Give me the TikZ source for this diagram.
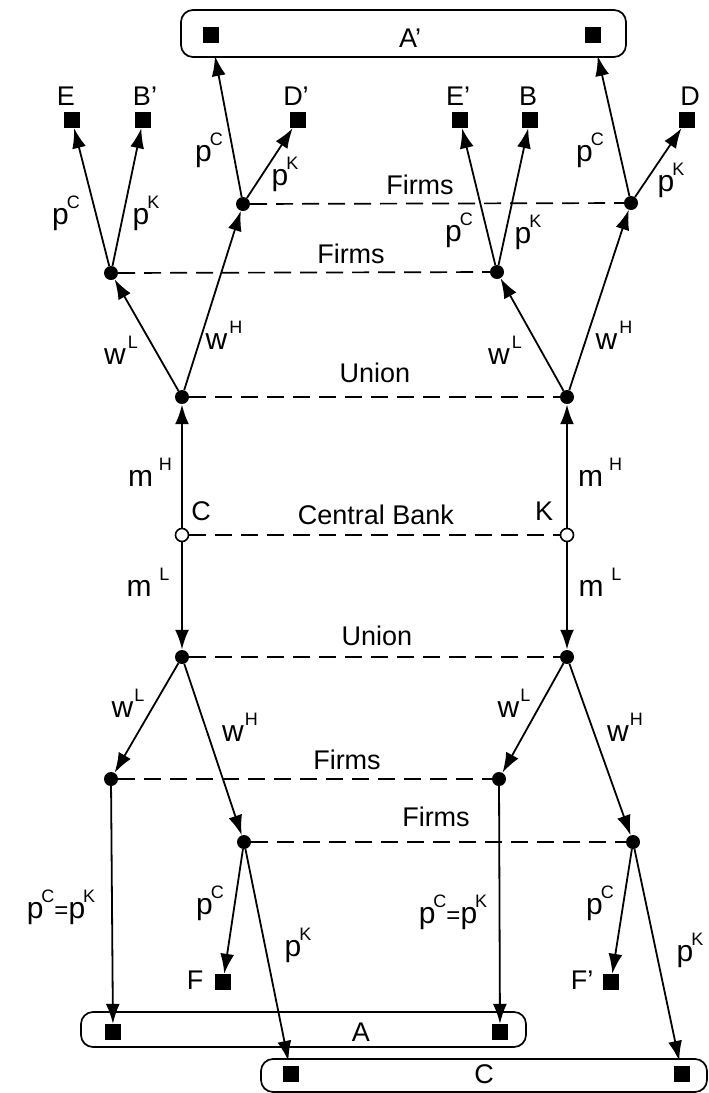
\documentclass[tikz,border=0pt]{standalone}
\usepackage{fontspec}
\setmainfont{Liberation Sans}
\usetikzlibrary{arrows.meta}
\newcommand\Sup[3][0pt]{{\fontsize{30}{30}\selectfont #2}\kern#1\raisebox{16pt}{\fontsize{18}{18}\selectfont #3}}
\begin{document}
\begin{tikzpicture}[x=1pt,y=-1pt,
 dot/.style={circle,fill=black,inner sep=0pt,minimum size=14pt},
 odot/.style={circle,draw=black,fill=white,line width=1.6pt,inner sep=0pt,minimum size=13pt},
 sq/.style={rectangle,fill=black,inner sep=0pt,minimum size=16pt},
 lab/.style={font=\fontsize{27}{27}\selectfont,inner sep=0pt},
 arr/.style={-{Latex[length=20pt,width=14pt]},line width=1.8pt},
 thk/.style={arr,line width=2.6pt},
 dsh/.style={line width=1.7pt,dash pattern=on 17pt off 9pt},
 grp/.style={draw,line width=1.7pt,rounded corners=12pt}]
\useasboundingbox (0,0) rectangle (709,1093);
% group boxes
\draw[grp] (181,10) rectangle (626,57);
\draw[grp] (81,1012) rectangle (526,1047);
\draw[grp] (261,1059) rectangle (707,1092);
% squares
\node[sq] (Asq1) at (211,35) {};
\node[sq] (Asq2) at (593,35) {};
\node[sq] (E) at (72,120) {};
\node[sq] (Bp) at (143,120) {};
\node[sq] (Dp) at (298,120) {};
\node[sq] (Ep) at (460,120) {};
\node[sq] (B) at (530,120) {};
\node[sq] (D) at (687,120) {};
\node[sq] (F) at (223,982) {};
\node[sq] (Fp) at (611,982) {};
\node[sq] (A1) at (113,1032) {};
\node[sq] (A2) at (500,1032) {};
\node[sq] (C1) at (291,1074) {};
\node[sq] (C2) at (682,1074) {};
% dots
\node[dot] (ufHC) at (243,204) {};
\node[dot] (ufHK) at (631,203) {};
\node[dot] (ufLC) at (111,273) {};
\node[dot] (ufLK) at (497,272) {};
\node[dot] (uuC) at (182,397) {};
\node[dot] (uuK) at (567,397) {};
\node[odot] (cbC) at (182,535) {};
\node[odot] (cbK) at (567,535) {};
\node[dot] (luC) at (182,657) {};
\node[dot] (luK) at (567,657) {};
\node[dot] (lfLC) at (111,779) {};
\node[dot] (lfLK) at (499,779) {};
\node[dot] (lfHC) at (244,842) {};
\node[dot] (lfHK) at (633,842) {};
% dashed links
\draw[dsh] (ufHC) -- (ufHK);
\draw[dsh] (ufLC) -- (ufLK);
\draw[dsh] (uuC) -- (uuK);
\draw[dsh] (cbC) -- (cbK);
\draw[dsh] (luC) -- (luK);
\draw[dsh] (lfLC) -- (lfLK);
\draw[dsh] (lfHC) -- (lfHK);
% arrows upper
\draw[thk] (cbC) -- (uuC);
\draw[thk] (cbK) -- (uuK);
\draw[arr] (uuC) -- (ufLC);
\draw[arr] (uuC) -- (ufHC);
\draw[arr] (uuK) -- (ufLK);
\draw[arr] (uuK) -- (ufHK);
\draw[arr] (ufLC) -- (E);
\draw[arr] (ufLC) -- (Bp);
\draw[arr] (ufLK) -- (Ep);
\draw[arr] (ufLK) -- (B);
\draw[arr,shorten >=13pt] (ufHC) -- (Asq1);
\draw[arr] (ufHC) -- (Dp);
\draw[arr,shorten >=13pt] (ufHK) -- (Asq2);
\draw[arr] (ufHK) -- (D);
% arrows lower
\draw[thk] (cbC) -- (luC);
\draw[thk] (cbK) -- (luK);
\draw[arr] (luC) -- (lfLC);
\draw[arr] (luC) -- (lfHC);
\draw[arr] (luK) -- (lfLK);
\draw[arr] (luK) -- (lfHK);
\draw[arr] (lfLC) -- (A1);
\draw[arr] (lfLK) -- (A2);
\draw[arr] (lfHC) -- (F);
\draw[arr] (lfHK) -- (Fp);
\draw[arr,shorten >=5pt] (lfHC) -- (C1);
\draw[arr,shorten >=5pt] (lfHK) -- (C2);
% group labels
\node[lab] (lAp) at (410,38) {A'};
\node[lab] (lA) at (361,1032) {A};
\node[lab] (lC) at (484,1074) {C};
% terminal labels
\node[lab] (lE) at (66,96) {E};
\node[lab] (lBp) at (145,96) {B'};
\node[lab] (lDp) at (296,96) {D'};
\node[lab] (lEp) at (458,96) {E'};
\node[lab] (lB) at (528,96) {B};
\node[lab] (lD) at (690,96) {D};
\node[lab] (lF) at (195,980) {F};
\node[lab] (lFp) at (582,980) {F'};
% node labels
\node[lab] (lCC) at (201,511) {C};
\node[lab] (lKK) at (544,511) {K};
% stage labels
\node[lab] (s1) at (420,185) {Firms};
\node[lab] (s2) at (351,254) {Firms};
\node[lab] (s3) at (375,373) {Union};
\node[lab] (s4) at (376,515) {Central Bank};
\node[lab] (s5) at (377,636) {Union};
\node[lab] (s6) at (347,760) {Firms};
\node[lab] (s7) at (436,817) {Firms};
% edge labels upper
\node[lab] (e1) at (66,213) {\Sup[-2pt]{p}{C}};
\node[lab] (e2) at (146,213) {\Sup[-2pt]{p}{K}};
\node[lab] (e3) at (209,150) {\Sup[-2pt]{p}{C}};
\node[lab] (e4) at (285,174) {\Sup[-2pt]{p}{K}};
\node[lab] (e5) at (459,230) {\Sup[-2pt]{p}{C}};
\node[lab] (e6) at (528,232) {\Sup[-2pt]{p}{K}};
\node[lab] (e7) at (590,150) {\Sup[-2pt]{p}{C}};
\node[lab] (e8) at (671,180) {\Sup[-2pt]{p}{K}};
\node[lab] (e9) at (121,350) {\Sup[2pt]{w}{L}};
\node[lab] (e10) at (224,335) {\Sup[2pt]{w}{H}};
\node[lab] (e11) at (505,350) {\Sup[2pt]{w}{L}};
\node[lab] (e12) at (614,335) {\Sup[2pt]{w}{H}};
\node[lab] (e13) at (150,472) {\Sup[6pt]{m}{H}};
\node[lab] (e14) at (600,472) {\Sup[6pt]{m}{H}};
\node[lab] (e15) at (148,582) {\Sup[8pt]{m}{L}};
\node[lab] (e16) at (600,582) {\Sup[8pt]{m}{L}};
% edge labels lower
\node[lab] (e17) at (128,703) {\Sup[1pt]{w}{L}};
\node[lab] (e18) at (240,727) {\Sup[1pt]{w}{H}};
\node[lab] (e19) at (514,703) {\Sup[1pt]{w}{L}};
\node[lab] (e20) at (625,727) {\Sup[1pt]{w}{H}};
\node[lab] (e21) at (61,907) {\Sup[-2pt]{p}{C}{\fontsize{24}{24}\selectfont =}\Sup[-2pt]{p}{K}};
\node[lab] (e22) at (453,912) {\Sup[-2pt]{p}{C}{\fontsize{24}{24}\selectfont =}\Sup[-2pt]{p}{K}};
\node[lab] (e23) at (210,903) {\Sup[-2pt]{p}{C}};
\node[lab] (e24) at (298,945) {\Sup[-2pt]{p}{K}};
\node[lab] (e25) at (600,903) {\Sup[-2pt]{p}{C}};
\node[lab] (e26) at (690,950) {\Sup[-2pt]{p}{K}};
\end{tikzpicture}
\end{document}
